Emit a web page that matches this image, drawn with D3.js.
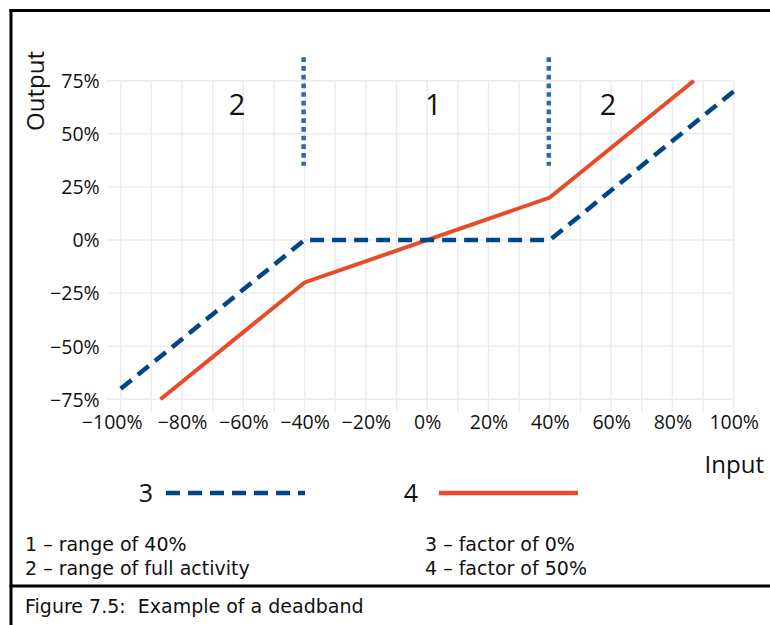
<!DOCTYPE html>
<html>
<head>
<meta charset="utf-8">
<script src="https://cdn.jsdelivr.net/npm/d3@7"></script>
<style>
  body { margin: 0; background: #fff; }
  text { font-family: "Open Sans", "DejaVu Sans", sans-serif; fill: #111; }
  .note { font-family: "DejaVu Sans", sans-serif; font-size: 19px; }
</style>
</head>
<body>
<div id="chart"></div>
<script>
// data
var xTicks = [-100, -80, -60, -40, -20, 0, 20, 40, 60, 80, 100];
var xGrid = d3.range(-100, 101, 10);
var yTicks = [-75, -50, -25, 0, 25, 50, 75];

// series 3: factor of 0%
var factor0 = [
  {x: -100, y: -70}, {x: -40, y: 0}, {x: 40, y: 0}, {x: 100, y: 70}
];
// series 4: factor of 50%
var factor50 = [
  {x: -87, y: -75}, {x: -40, y: -20}, {x: 40, y: 20}, {x: 87, y: 75}
];

// deadband borders and range labels
var dividers = [-40, 40];
var dividerSpan = [35, 86];
var regions = [{x: -62, label: "2"}, {x: 2, label: "1"}, {x: 59, label: "2"}];
var regionY = 64;

var notesLeft = ["1 \u2013 range of 40%", "2 \u2013 range of full activity"];
var notesRight = ["3 \u2013 factor of 0%", "4 \u2013 factor of 50%"];

var W = 770, H = 625;
var blue = "#00468b", red = "#e94b2a", dotBlue = "#3466a8";

var svg = d3.select("#chart").append("svg")
    .attr("width", W)
    .attr("height", H);

//scales
var x = d3.scaleLinear().domain([-100, 100]).range([120.7, 733.7]);
var y = d3.scaleLinear().domain([-75, 75]).range([399.3, 80.7]);

//grid
svg.append("g").selectAll("line").data(xGrid).enter().append("line")
    .attr("x1", function(d) { return x(d); })
    .attr("x2", function(d) { return x(d); })
    .attr("y1", y(75))
    .attr("y2", y(-75) + 13)
    .attr("stroke", "#ebebeb")
    .attr("stroke-width", 1.4);

svg.append("g").selectAll("line").data(yTicks).enter().append("line")
    .attr("x1", x(-100) - 14)
    .attr("x2", x(100))
    .attr("y1", function(d) { return y(d); })
    .attr("y2", function(d) { return y(d); })
    .attr("stroke", "#ebebeb")
    .attr("stroke-width", 1.4);

//axes (labels only)
var fmt = function(d) { return (d < 0 ? "\u2212" + (-d) : d) + "%"; };

var yAxis = d3.axisLeft(y).tickValues(yTicks).tickFormat(fmt).tickSize(0).tickPadding(0);
var gy = svg.append("g")
    .attr("transform", "translate(" + (x(-100) - 21) + ",0)")
    .call(yAxis);
gy.select(".domain").remove();
gy.selectAll("text").style("font-size", "19.5px").style("font-family", null).attr("dy", "0.35em");

var xAxis = d3.axisBottom(x).tickValues(xTicks).tickFormat(fmt).tickSize(0).tickPadding(0);
var gx = svg.append("g")
    .attr("transform", "translate(0," + (y(-75) + 16) + ")")
    .call(xAxis);
gx.select(".domain").remove();
gx.selectAll("text").style("font-size", "19.5px").style("font-family", null).attr("dy", "0.72em")
    .attr("dx", function(d) { return d === -100 ? -9 : 0; });

//axis titles
svg.append("text")
    .attr("transform", "translate(44," + 91 + ") rotate(-90)")
    .style("text-anchor", "middle")
    .style("font-size", "24px")
    .text("Output");

svg.append("text")
    .attr("x", 764)
    .attr("y", 473)
    .style("text-anchor", "end")
    .style("font-size", "24px")
    .text("Input");

//deadband borders
svg.append("g").selectAll("line").data(dividers).enter().append("line")
    .attr("x1", function(d) { return x(d) - 1; })
    .attr("x2", function(d) { return x(d) - 1; })
    .attr("y1", y(dividerSpan[1]))
    .attr("y2", y(dividerSpan[0]))
    .attr("stroke", dotBlue)
    .attr("stroke-width", 4.5)
    .attr("stroke-dasharray", "4.7,4");

svg.append("g").selectAll("text").data(regions).enter().append("text")
    .attr("x", function(d) { return x(d.x); })
    .attr("y", y(regionY))
    .attr("dy", "0.36em")
    .style("text-anchor", "middle")
    .style("font-size", "29px")
    .text(function(d) { return d.label; });

//lines
var line = d3.line()
    .x(function(d) { return x(d.x); })
    .y(function(d) { return y(d.y); });

svg.append("path")
    .datum(factor50)
    .attr("d", line)
    .attr("fill", "none")
    .attr("stroke", red)
    .attr("stroke-width", 4);

svg.append("path")
    .datum(factor0)
    .attr("d", line)
    .attr("fill", "none")
    .attr("stroke", blue)
    .attr("stroke-width", 4.5)
    .attr("stroke-dasharray", "14,8");

//legend
var legendY = 493;
svg.append("text")
    .attr("x", 153).attr("y", legendY).attr("dy", "0.36em")
    .style("text-anchor", "end").style("font-size", "25px")
    .text("3");
svg.append("line")
    .attr("x1", 166).attr("x2", 305)
    .attr("y1", legendY).attr("y2", legendY)
    .attr("stroke", blue).attr("stroke-width", 4.7)
    .attr("stroke-dasharray", "14,8");
svg.append("text")
    .attr("x", 418).attr("y", legendY).attr("dy", "0.36em")
    .style("text-anchor", "end").style("font-size", "25px")
    .text("4");
svg.append("line")
    .attr("x1", 439).attr("x2", 578)
    .attr("y1", legendY).attr("y2", legendY)
    .attr("stroke", red).attr("stroke-width", 4.7);

//notes
svg.append("g").selectAll("text").data(notesLeft).enter().append("text")
    .attr("class", "note")
    .attr("x", 25)
    .attr("y", function(d, i) { return 551 + i * 24; })
    .text(function(d) { return d; });
svg.append("g").selectAll("text").data(notesRight).enter().append("text")
    .attr("class", "note")
    .attr("x", 425)
    .attr("y", function(d, i) { return 551 + i * 24; })
    .text(function(d) { return d; });

//frame
svg.append("line")
    .attr("x1", 9.5).attr("x2", W)
    .attr("y1", 10.5).attr("y2", 10.5)
    .attr("stroke", "#000").attr("stroke-width", 3);
svg.append("line")
    .attr("x1", 11).attr("x2", 11)
    .attr("y1", 9).attr("y2", H)
    .attr("stroke", "#000").attr("stroke-width", 3);
svg.append("line")
    .attr("x1", 9.5).attr("x2", W)
    .attr("y1", 586).attr("y2", 586)
    .attr("stroke", "#000").attr("stroke-width", 3);

svg.append("text")
    .attr("class", "note")
    .attr("x", 25)
    .attr("y", 613)
    .style("white-space", "pre")
    .text("Figure 7.5:  Example of a deadband");
</script>
</body>
</html>
